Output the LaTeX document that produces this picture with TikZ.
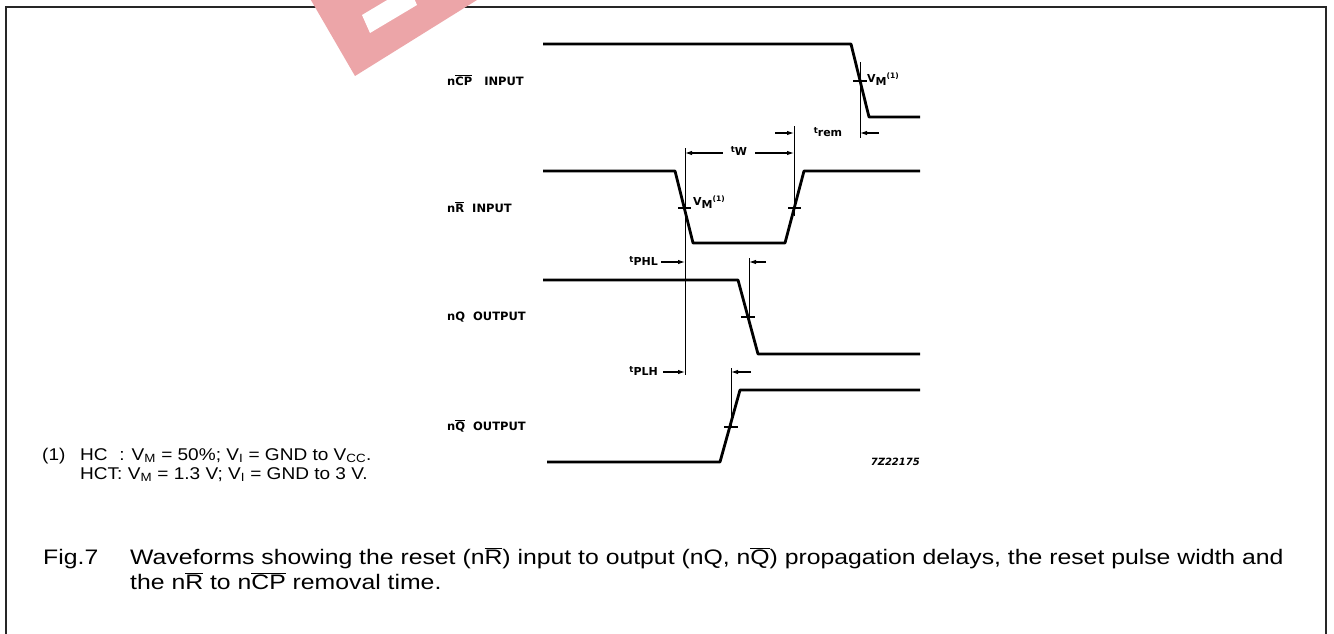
\documentclass[tikz,border=0pt]{standalone}
\usepackage{fontspec}
\setmainfont{Liberation Sans}[FakeStretch=1.12]
\newfontfamily\capfont{Liberation Sans}[FakeStretch=1.18]
\newfontfamily\wf{DejaVu Sans}
\usetikzlibrary{arrows.meta}
\definecolor{wm}{RGB}{236,165,168}
\newcommand\ovl[1]{\ensuremath{\overline{\mbox{#1}}}}
\newcommand\tsub[2]{{\fontsize{8.5}{8.5}\selectfont #1}\raisebox{-3pt}{#2}}
\newcommand\vmlab{V\raisebox{-3.5pt}{M}\raisebox{4pt}{\fontsize{7.5}{7.5}\selectfont (1)}}
\begin{document}
\begin{tikzpicture}[x=1pt,y=-1pt,
  wave/.style={line width=2.8pt, line join=round},
  refl/.style={line width=0.9pt},
  tickl/.style={line width=1.4pt},
  dimarrow/.style={line width=1.1pt, -{Latex[length=7pt,width=4.5pt]}},
  lbl/.style={font=\wf\bfseries\fontsize{11.5}{13}\selectfont, anchor=west, inner sep=0pt},
  tlbl/.style={font=\wf\bfseries\fontsize{11}{13}\selectfont, inner sep=0pt},
  note/.style={font=\fontsize{17}{19}\selectfont, anchor=base west, inner sep=0pt},
  captxt/.style={font=\capfont\fontsize{21}{24}\selectfont, anchor=base west, inner sep=0pt}]
\useasboundingbox (0,0) rectangle (1334,634);
\fill[white] (0,0) rectangle (1334,634);
% frame
\draw[line width=2pt, black!85] (6,634) -- (6,7) -- (1326,7) -- (1326,634);
% watermark
\begin{scope}
\clip (0,0) rectangle (1334,634);
\fill[wm] (355,76) -- (308,-5) -- (485,-5) -- cycle;
\fill[white] (362,15) -- (370,33) -- (417,5) -- (409,-13) -- cycle;
\end{scope}
% labels
\node[lbl] (lcp) at (447,80) {n\ovl{CP}\ \ \ INPUT};
\node[lbl] (lr) at (447,207) {n\ovl{R}\ \ INPUT};
\node[lbl] (lq) at (447,317) {nQ\ \ OUTPUT};
\node[lbl] (lqb) at (447,426) {n\ovl{Q}\ \ OUTPUT};
% nCP waveform
\draw[wave] (543,44) -- (851,44) -- (869,117) -- (920,117);
\draw[tickl] (853,81) -- (867,81);
\coordinate (cpv1) at (860,62);
\coordinate (cpv2) at (860,138);
\draw[refl] (cpv1) -- (cpv2);
\node[tlbl, anchor=west] (vm1) at (867,79) {\vmlab};
% nR waveform
\draw[wave] (543,171) -- (675,171) -- (693,243) -- (785,243) -- (804,171) -- (920,171);
\draw[tickl] (678,208) -- (691,208);
\draw[tickl] (788,208) -- (801,208);
\coordinate (rv1) at (685,148);
\coordinate (rv2) at (685,375);
\draw[refl] (rv1) -- (rv2);
\coordinate (rr1) at (794,126);
\coordinate (rr2) at (794,216);
\draw[refl] (rr1) -- (rr2);
\node[tlbl, anchor=west] (vm2) at (693,202) {\vmlab};
% t_rem
\coordinate (trl) at (775,133);
\coordinate (trr) at (879,133);
\draw[dimarrow] (trl) -- (rr1 |- trl);
\draw[dimarrow] (trr) -- (cpv1 |- trr);
\node[tlbl] (trem) at (828,132) {\tsub{t}{rem}};
% t_W
\node[tlbl] (tw) at (739,151) {\tsub{t}{W}};
\draw[dimarrow] (tw.west) ++(-8,2) -- (rv1 |- 0,153);
\draw[dimarrow] (tw.east) ++(8,2) -- (rr1 |- 0,153);
% nQ waveform
\draw[wave] (543,280) -- (738,280) -- (758,354) -- (920,354);
\draw[tickl] (741,317) -- (755,317);
\coordinate (qv1) at (749,258);
\coordinate (qv2) at (749,318);
\draw[refl] (qv1) -- (qv2);
\coordinate (qa) at (766,262);
\draw[dimarrow] (qa) -- (qv1 |- qa);
\node[tlbl, anchor=east] (tphl) at (658,261) {\tsub{t}{PHL}};
\draw[dimarrow] (661,262) -- (rv1 |- 0,262);
% nQbar waveform
\draw[wave] (547,462) -- (720,462) -- (740,390) -- (920,390);
\draw[tickl] (724,427) -- (738,427);
\coordinate (qbv1) at (731,368);
\coordinate (qbv2) at (731,428);
\draw[refl] (qbv1) -- (qbv2);
\coordinate (qba) at (751,372);
\draw[dimarrow] (qba) -- (qbv1 |- qba);
\node[tlbl, anchor=east] (tplh) at (658,371) {\tsub{t}{PLH}};
\draw[dimarrow] (663,372) -- (rv1 |- 0,372);
\node[tlbl, anchor=east, font=\wf\bfseries\itshape\fontsize{10}{11}\selectfont] (code) at (920,462) {7Z22175};
% footnote
\node[note] (fn1) at (42,460) {(1)};
\node[note] (fn2) at (80,460) {\rlap{HC}\phantom{HCT}: V\textsubscript{M} = 50\%; V\textsubscript{I} = GND to V\textsubscript{CC}.};
\node[note] (fn3) at (80,479) {HCT: V\textsubscript{M} = 1.3 V; V\textsubscript{I} = GND to 3 V.};
% caption
\node[captxt] (fig) at (43,564) {Fig.7};
\node[captxt] (c1) at (130,564) {Waveforms showing the reset (n\ovl{R}) input to output (nQ, n\ovl{Q}) propagation delays, the reset pulse width and};
\node[captxt] (c2) at (130,589) {the n\ovl{R} to n\ovl{CP} removal time.};
\end{tikzpicture}
\end{document}
